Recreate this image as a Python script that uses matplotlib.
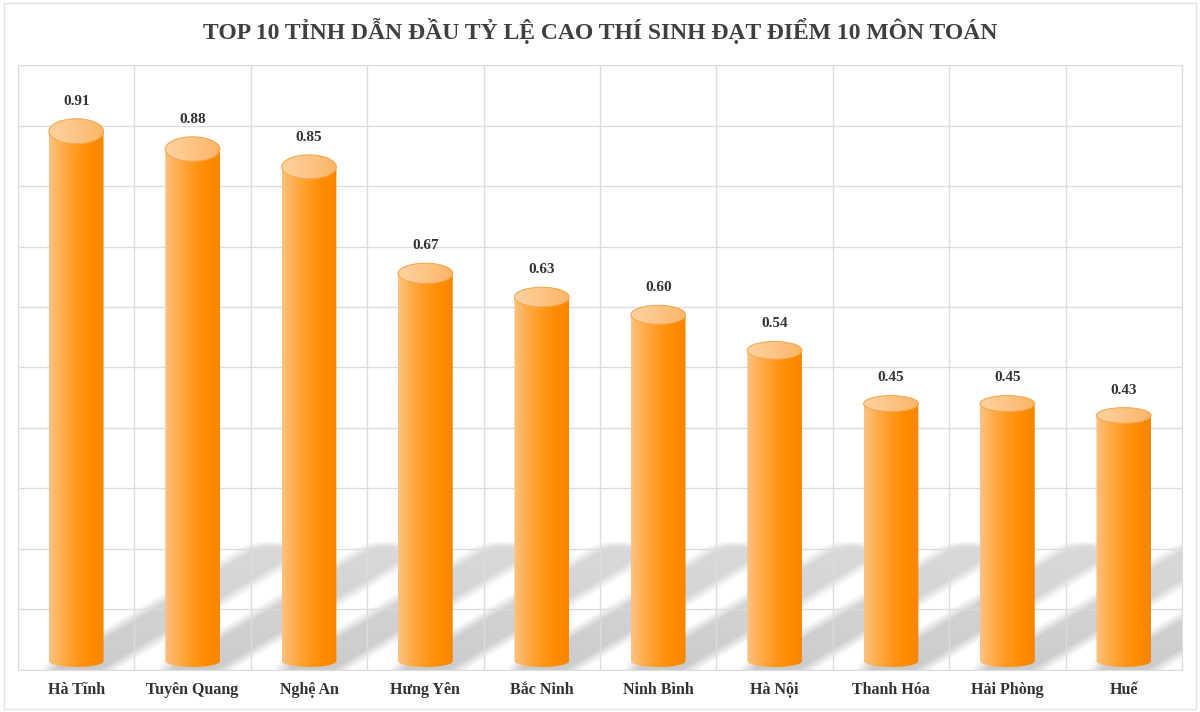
import numpy as np
import matplotlib
matplotlib.use("Agg")
import matplotlib.pyplot as plt
from matplotlib.patches import Ellipse, PathPatch, Rectangle
from matplotlib.path import Path
from matplotlib.colors import LinearSegmentedColormap

provinces = ["Hà Tĩnh", "Tuyên Quang", "Nghệ An", "Hưng Yên", "Bắc Ninh",
             "Ninh Bình", "Hà Nội", "Thanh Hóa", "Hải Phòng", "Huế"]
rates = [0.91, 0.88, 0.85, 0.67, 0.63, 0.60, 0.54, 0.45, 0.45, 0.43]
title = "TOP 10 TỈNH DẪN ĐẦU TỶ LỆ CAO THÍ SINH ĐẠT ĐIỂM 10 MÔN TOÁN"

plt.rcParams['font.family'] = ['Liberation Serif', 'DejaVu Serif']

YTOP = 1.022          # value at top of the plot area
BAR_W = 0.47          # bar width in category units
BASE_H = 0.02         # height of bottom ellipse (value units)
SH_DX, SH_DY = 1.66, 0.195   # shadow direction
SH_H = 0.035                 # shadow "foot" ellipse height


def top_height(v):
    # perspective: taller bars show a deeper top ellipse
    return 0.033 * (v + 0.37)


body_cmap = LinearSegmentedColormap.from_list(
    "body", ["#fcc282", "#ffab48", "#ff9a1e", "#ff8c00", "#f88600"])
top_cmap = LinearSegmentedColormap.from_list("top", ["#fdd3a0", "#fdc486", "#fcb566"])
grad = np.linspace(0, 1, 256).reshape(1, -1)

fig = plt.figure(figsize=(12, 7.12), dpi=100)
ax = fig.add_axes([0.015, 0.059, 0.97, 0.8497])
n = len(provinces)

# grid
ax.set_yticks(np.linspace(0, YTOP, 11))
ax.set_yticklabels([])
ax.set_xticks(range(n))
ax.set_xticks(np.arange(-0.5, n, 1), minor=True)
ax.set_xticklabels(provinces, fontsize=11.5, fontweight='bold', color='#333333')
ax.tick_params(which='both', length=0)
ax.tick_params(axis='x', pad=9)
ax.grid(axis='y', color='#dcdcdc', lw=1)
ax.grid(axis='x', which='minor', color='#dcdcdc', lw=1)
ax.set_axisbelow(True)
for s in ax.spines.values():
    s.set_color('#dcdcdc')

# soft floor shadows: the bar foot swept along the light direction
X, Y = np.meshgrid(np.linspace(-0.5, n - 0.5, 1164), np.linspace(0, YTOP, 605))
A, B = BAR_W / 2, SH_H / 2
shade = np.zeros_like(X)
soft = 0.3
for i in range(n):
    a = X - i
    tt = (a * SH_DX / A**2 + Y * SH_DY / B**2) / (SH_DX**2 / A**2 + SH_DY**2 / B**2)
    tt = np.clip(tt, 0, 1)
    r = np.sqrt(((a - tt * SH_DX) / A) ** 2 + ((Y - tt * SH_DY) / B) ** 2)
    alpha = np.clip((1 + soft - r) / (2 * soft), 0, 1) * (1 - 0.25 * tt)
    shade = np.maximum(shade, alpha)
rgba = np.zeros(X.shape + (4,))
rgba[..., :3] = 0.52
rgba[..., 3] = 0.42 * shade
ax.imshow(rgba, extent=[-0.5, n - 0.5, 0, YTOP], origin='lower',
          aspect='auto', zorder=0.4, interpolation='bilinear')

# cylinders
for i, v in enumerate(rates):
    x0, x1 = i - BAR_W / 2, i + BAR_W / 2
    th = top_height(v)
    base = 0.005 + BASE_H / 2
    ang = np.linspace(np.pi, 2 * np.pi, 40)
    arc = list(zip(i + BAR_W / 2 * np.cos(ang), base + BASE_H / 2 * np.sin(ang)))
    verts = [(x0, v)] + arc + [(x1, v), (x0, v)]
    body = PathPatch(Path(verts), fc='none', ec='none')
    ax.add_patch(body)
    im = ax.imshow(grad, cmap=body_cmap, extent=[x0, x1, 0, v],
                   aspect='auto', zorder=3, interpolation='bilinear')
    im.set_clip_path(body)

    top = Ellipse((i, v), BAR_W, th, fc='none', ec='#f6a850', lw=0.8, zorder=5)
    ax.add_patch(top)
    im2 = ax.imshow(grad, cmap=top_cmap, extent=[x0, x1, v - th / 2, v + th / 2],
                    aspect='auto', zorder=4, interpolation='bilinear')
    im2.set_clip_path(top)

    ax.annotate(f"{v:.2f}", (i, v + th / 2), xytext=(0, 8), textcoords='offset points',
                ha='center', va='bottom', fontsize=11, fontweight='bold',
                color='#333333', zorder=6)

ax.set_xlim(-0.5, n - 0.5)
ax.set_ylim(0, YTOP)

fig.text(0.5, 0.957, title, ha='center', va='center', fontsize=17,
         fontweight='bold', color='#3f3f3f')
fig.patches.append(Rectangle((0.003, 0.004), 0.994, 0.992, transform=fig.transFigure,
                             fill=False, ec='#e2e2e2', lw=1))

fig.savefig("out.png", dpi=100)
